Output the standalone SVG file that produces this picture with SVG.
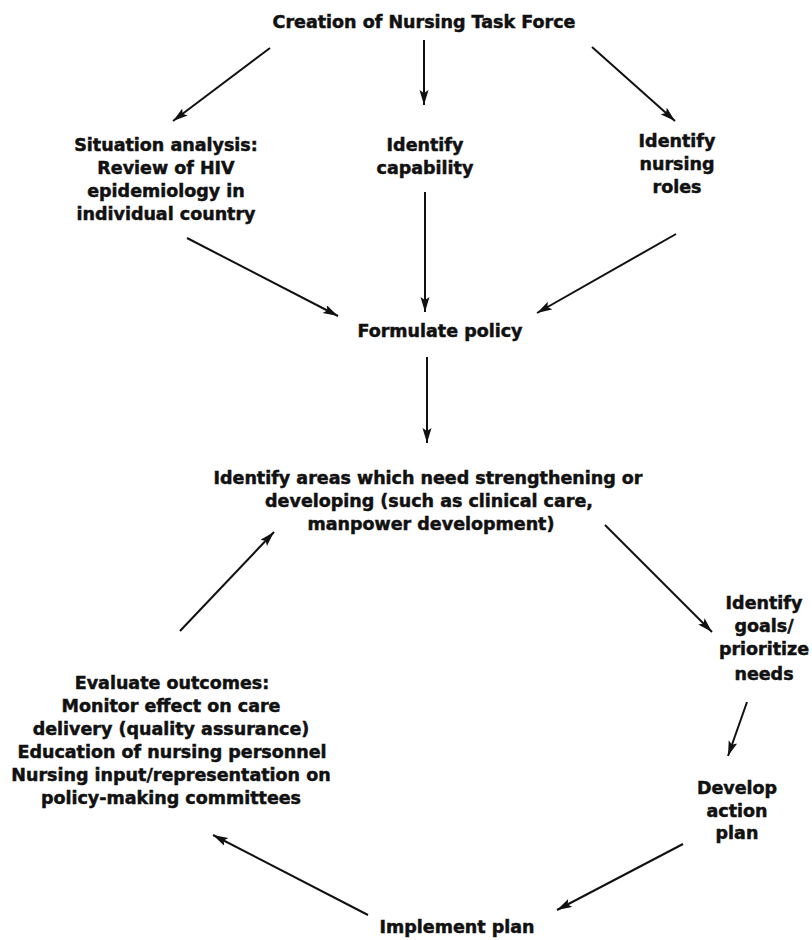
<svg xmlns="http://www.w3.org/2000/svg" width="812" height="940" viewBox="0 0 812 940">
  <defs>
    <marker id="ah" markerUnits="userSpaceOnUse" markerWidth="16" markerHeight="10" refX="15" refY="4.5" orient="auto">
      <path d="M0,0 L15,4.5 L0,9 L3,4.5 z" fill="#111"/>
    </marker>
    <style>
      .t { font-family: "DejaVu Sans", "Liberation Sans", sans-serif; font-weight: bold; font-size: 17.5px; fill: #111; stroke: #111; stroke-width: 0.5; text-anchor: middle; }
      .c line { stroke: #111; stroke-width: 2; marker-end: url(#ah); }
    </style>
  </defs>
  <rect width="812" height="940" fill="#fff"/>

  <g id="n-taskforce"><text class="t" x="424" y="28">Creation of Nursing Task Force</text></g>

  <g id="n-situation">
    <text class="t" x="166" y="151">Situation analysis:</text>
    <text class="t" x="166" y="174">Review of HIV</text>
    <text class="t" x="166" y="197">epidemiology in</text>
    <text class="t" x="166" y="220">individual country</text>
  </g>

  <g id="n-capability">
    <text class="t" x="425" y="151">Identify</text>
    <text class="t" x="425" y="174">capability</text>
  </g>

  <g id="n-roles">
    <text class="t" x="677" y="147">Identify</text>
    <text class="t" x="677" y="170">nursing</text>
    <text class="t" x="677" y="193">roles</text>
  </g>

  <g id="n-policy"><text class="t" x="440" y="337">Formulate policy</text></g>

  <g id="n-areas">
    <text class="t" x="428" y="484">Identify areas which need strengthening or</text>
    <text class="t" x="429" y="507">developing (such as clinical care,</text>
    <text class="t" x="431" y="530">manpower development)</text>
  </g>

  <g id="n-goals">
    <text class="t" x="764" y="609">Identify</text>
    <text class="t" x="764" y="632">goals/</text>
    <text class="t" x="764" y="655">prioritize</text>
    <text class="t" x="764" y="680">needs</text>
  </g>

  <g id="n-action">
    <text class="t" x="737" y="794">Develop</text>
    <text class="t" x="737" y="817">action</text>
    <text class="t" x="737" y="839">plan</text>
  </g>

  <g id="n-implement"><text class="t" x="457" y="933">Implement plan</text></g>

  <g id="n-evaluate">
    <text class="t" x="172" y="689">Evaluate outcomes:</text>
    <text class="t" x="171" y="712">Monitor effect on care</text>
    <text class="t" x="171" y="735">delivery (quality assurance)</text>
    <text class="t" x="172" y="758">Education of nursing personnel</text>
    <text class="t" x="171" y="781">Nursing input/representation on</text>
    <text class="t" x="171" y="804">policy-making committees</text>
  </g>

  <g id="connectors" class="c">
    <line x1="270" y1="48" x2="173" y2="121"/>
    <line x1="424" y1="40" x2="424" y2="105"/>
    <line x1="592" y1="47" x2="675" y2="121"/>
    <line x1="187" y1="238" x2="338" y2="316"/>
    <line x1="425" y1="192" x2="425" y2="312"/>
    <line x1="676" y1="234" x2="537" y2="313"/>
    <line x1="427" y1="357" x2="427" y2="443"/>
    <line x1="180" y1="631" x2="274" y2="532"/>
    <line x1="605" y1="525" x2="712" y2="632"/>
    <line x1="747" y1="702" x2="728" y2="756"/>
    <line x1="683" y1="844" x2="557" y2="910"/>
    <line x1="368" y1="915" x2="213" y2="835"/>
  </g>
</svg>
